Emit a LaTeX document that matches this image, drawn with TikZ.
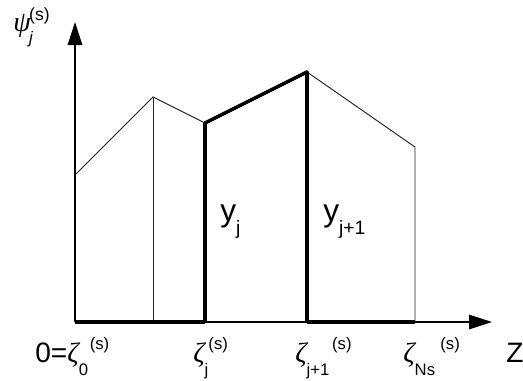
\documentclass[tikz,border=0pt]{standalone}
\usepackage{fontspec}
\setmainfont{Liberation Sans}
\newfontfamily\grk{Liberation Serif}
\usetikzlibrary{arrows.meta}

\newcommand{\subsz}{\fontsize{9.5}{11}\selectfont}
\newcommand{\zlab}[2]{{\grk\itshape ζ}\raisebox{-7.4pt}{\subsz #1}\hspace{#2}\raisebox{7.4pt}{\subsz (s)}}

\begin{document}
\begin{tikzpicture}[x=0.02cm, y=-0.02cm,
    axisline/.style={draw, line width=0.8pt, -{Triangle[length=0.46cm, width=0.29cm]}},
    thinline/.style={draw, line width=0.55pt, black!85},
    thickline/.style={draw, line width=2pt, line join=round},
    txt/.style={inner sep=0pt, anchor=base west, font=\fontsize{16}{19}\selectfont},
    ytxt/.style={inner sep=0pt, anchor=base west, font=\fontsize{18}{21}\selectfont}
]
    \useasboundingbox (0,0) rectangle (523,380);

    % Points
    \coordinate (o) at (75,322);
    \coordinate (ytip) at (75,22);
    \coordinate (xtip) at (492,322);
    \coordinate (a) at (75,175);
    \coordinate (b) at (153,97);
    \coordinate (c) at (205,123);
    \coordinate (d) at (307,72);
    \coordinate (e) at (415,147);
    \coordinate (b0) at (153,322);
    \coordinate (c0) at (205,322);
    \coordinate (d0) at (307,322);
    \coordinate (e0) at (415,322);

    % Profile
    \draw[thinline] (a) -- (b) -- (c);
    \draw[thinline] (d) -- (e) -- (e0);
    \draw[thinline] (b) -- (b0);
    \draw[thickline] (c0) -- (c) -- (d) -- (d0);
    \draw[thickline] (o) -- (c0);
    \draw[thickline] (d0) -- (e0);

    % Axes
    \draw[axisline] (o) -- (ytip);
    \draw[axisline] (o) -- (xtip);

    % Labels
    \node[txt, font=\fontsize{16}{19}\selectfont] (psi) at (13,31)
        {{\grk\itshape ψ}\hspace{-1pt}\raisebox{-7pt}{\fontsize{9.5}{11}\selectfont\itshape j}\hspace{-2pt}\raisebox{6pt}{\fontsize{10}{12}\selectfont(s)}};
    \node[ytxt] (yj) at (220,221) {y\raisebox{-7.4pt}{\fontsize{11}{13}\selectfont j}};
    \node[ytxt] (yj1) at (323,221) {y\raisebox{-7.4pt}{\fontsize{11}{13}\selectfont j+1}};

    \node[txt] (z0) at (35,362) {0=\zlab{0}{1pt}};
    \node[txt] (zj) at (193,362) {\zlab{j}{0pt}};
    \node[txt] (zj1) at (295,362) {\zlab{j+1}{1.5pt}};
    \node[txt] (zns) at (403,362) {\zlab{Ns}{3pt}};
    \node[txt] (zax) at (506,362) {Z};

\end{tikzpicture}
\end{document}
